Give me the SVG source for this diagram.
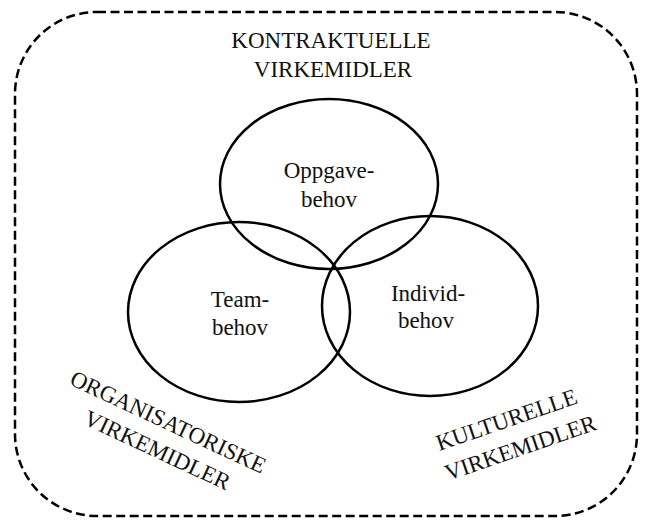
<svg xmlns="http://www.w3.org/2000/svg" width="646" height="528" viewBox="0 0 646 528">
<style>
.frame{fill:none;stroke:#000;stroke-width:2.5;stroke-dasharray:9 4.5}
.ell{fill:none;stroke:#000;stroke-width:2.5}
text{font-family:"Liberation Serif","Times New Roman",serif;font-size:23px;fill:#111;text-anchor:middle}
</style>
<rect class="frame" x="15" y="12" width="622" height="504" rx="82" ry="82"/>
<g id="kontraktuelle">
<text x="331" y="48">KONTRAKTUELLE</text>
<text x="333" y="77">VIRKEMIDLER</text>
</g>
<g id="oppgave">
<ellipse class="ell" cx="329" cy="184" rx="109" ry="85"/>
<text x="329" y="178">Oppgave-</text>
<text x="329" y="207">behov</text>
</g>
<g id="team">
<ellipse class="ell" cx="239" cy="312" rx="111" ry="90"/>
<text x="240" y="307">Team-</text>
<text x="240" y="335">behov</text>
</g>
<g id="individ">
<ellipse class="ell" cx="430" cy="306" rx="108" ry="90"/>
<text x="428" y="301">Individ-</text>
<text x="426" y="328">behov</text>
</g>
<g id="organisatoriske" transform="translate(165,429) rotate(25)">
<text x="0" y="0">ORGANISATORISKE</text>
<text x="2" y="30">VIRKEMIDLER</text>
</g>
<g id="kulturelle" transform="translate(509,427) rotate(-19)">
<text x="0" y="0">KULTURELLE</text>
<text x="4" y="31">VIRKEMIDLER</text>
</g>
<g id="connectors"/>
</svg>
